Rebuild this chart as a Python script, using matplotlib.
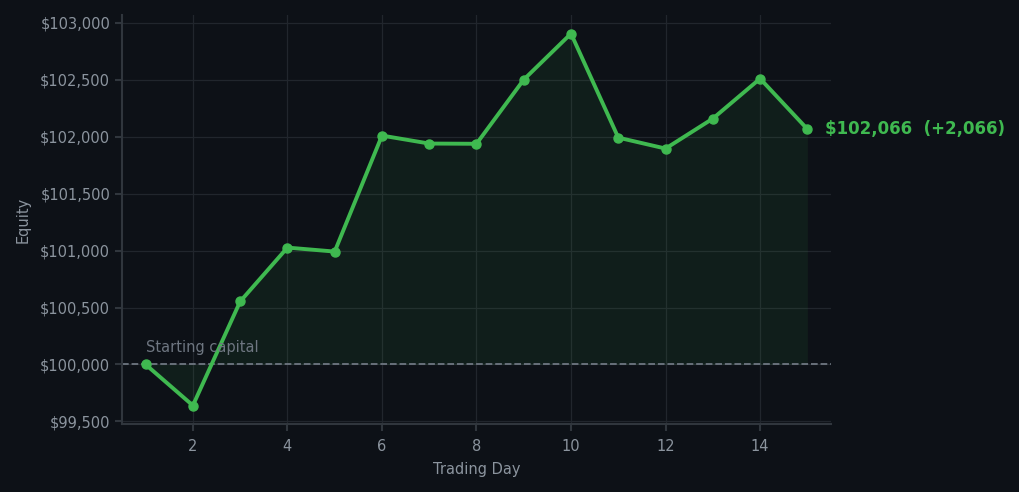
import matplotlib.pyplot as plt
import matplotlib.ticker as mticker

# equity curve
days = [1, 2, 3, 4, 5, 6, 7, 8, 9, 10, 11, 12, 13, 14, 15]
equity = [100000, 99640, 100553, 101026, 100991, 102009, 101939, 101937,
          102500, 102904, 101991, 101895, 102158, 102509, 102066]
start_capital = 100000

bg = '#0d1117'
green = '#3fb950'
muted = '#8b949e'
grid_c = '#21262d'

fig, ax = plt.subplots(figsize=(10.2, 4.92), dpi=100)
fig.patch.set_facecolor(bg)
ax.set_facecolor(bg)
fig.subplots_adjust(left=0.1196, right=0.8147, top=0.9695, bottom=0.138)

ax.fill_between(days, equity, start_capital, color=green, alpha=0.08, linewidth=0)
ax.plot(days, equity, color=green, linewidth=2.8, marker='o', markersize=6.5, zorder=3)
ax.axhline(start_capital, color='#6e7681', linestyle='--', linewidth=1.3, zorder=2)
ax.text(days[0], start_capital + 80, 'Starting capital', color='#6e7681',
        fontsize=10.5, ha='left', va='bottom')

last = equity[-1]
ax.annotate(f'${last:,.0f}  (+{last - start_capital:,.0f})', xy=(days[-1], last),
            xytext=(13, 0), textcoords='offset points', color=green,
            fontsize=12, fontweight='bold', va='center', ha='left',
            annotation_clip=False)

ax.set_xlim(0.5, 15.5)
ax.yaxis.set_major_formatter(mticker.StrMethodFormatter('${x:,.0f}'))
ax.yaxis.set_major_locator(mticker.MultipleLocator(500))
ax.xaxis.set_major_locator(mticker.MultipleLocator(2))
ax.grid(True, color=grid_c, linewidth=0.9)
ax.set_axisbelow(True)

for s in ['top', 'right']:
    ax.spines[s].set_visible(False)
for s in ['left', 'bottom']:
    ax.spines[s].set_color('#30363d')
    ax.spines[s].set_linewidth(1.5)
ax.tick_params(colors=muted, labelsize=10.5, length=5, width=1.5)
ax.tick_params(axis='x', pad=6)
ax.tick_params(axis='both', color='#30363d')
for lbl in ax.get_xticklabels() + ax.get_yticklabels():
    lbl.set_color(muted)

ax.set_xlabel('Trading Day', color=muted, fontsize=10.5, labelpad=5.5)
ax.set_ylabel('Equity', color=muted, fontsize=10.5, labelpad=7)

fig.savefig('out.png', facecolor=bg)
